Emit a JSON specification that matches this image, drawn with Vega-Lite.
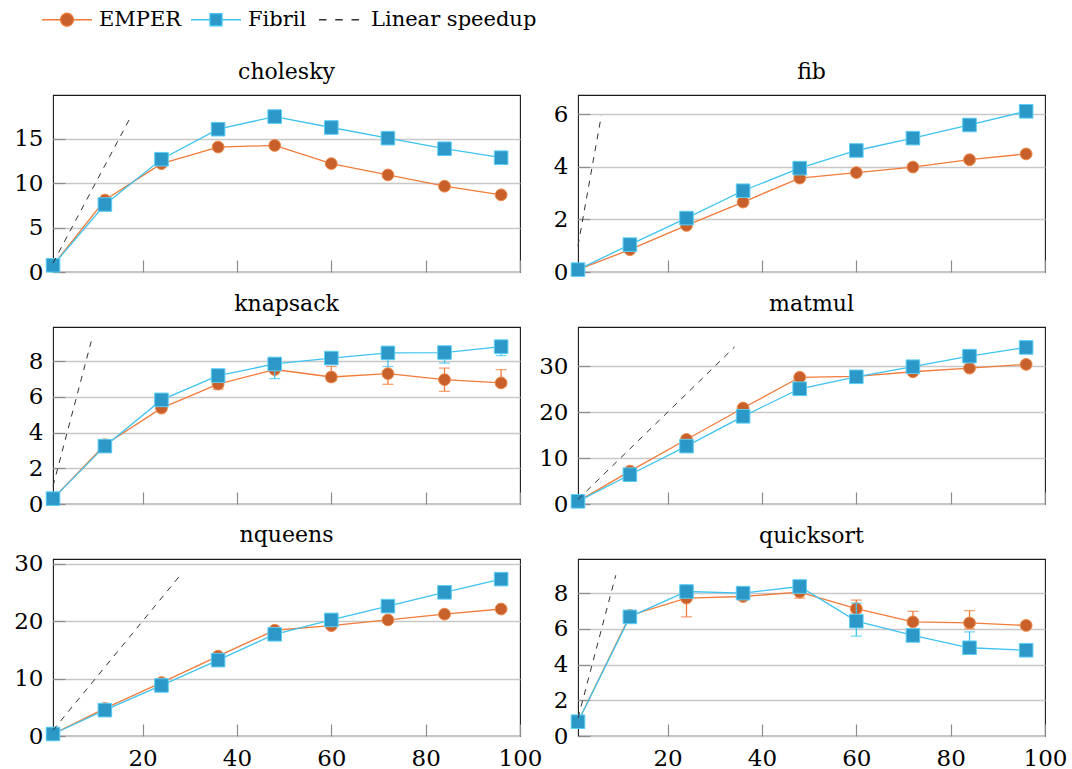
{
  "$schema": "https://vega.github.io/schema/vega-lite/v6.json",
  "padding": {"left": 7, "top": 6, "right": 4, "bottom": 4},
  "config": {
    "font": "DejaVu Serif",
    "view": {"stroke": "#1a1a1a", "strokeWidth": 1.1},
    "axis": {"domain": false, "labelFont": "DejaVu Serif", "labelFontSize": 23, "labelColor": "#000000", "tickColor": "#8c8c8c", "tickWidth": 1.2, "tickSize": -12, "labelPadding": 22, "gridColor": "#c8c8c8", "gridWidth": 1.3},
    "axisX": {"grid": false, "labelFlush": false, "labelOverlap": false, "labelPadding": 23},
    "axisY": {"grid": true, "minExtent": 45, "maxExtent": 45},
    "title": {"font": "DejaVu Serif", "fontSize": 22, "fontWeight": "normal", "color": "#000000", "offset": 11, "baseline": "alphabetic", "anchor": "middle"},
    "legend": {"orient": "none", "legendX": -12, "legendY": -89, "direction": "horizontal", "labelFont": "DejaVu Serif", "labelFontSize": 21, "labelColor": "#000000", "labelLimit": 400, "symbolSize": 625, "symbolStrokeWidth": 1.3, "labelOffset": 31, "columnPadding": 6, "padding": 0}
  },
  "datasets": {
    "pts": [
      {"bench": "cholesky", "series": "EMPER", "x": 1, "y": 0.75},
      {"bench": "cholesky", "series": "EMPER", "x": 12, "y": 8.1},
      {"bench": "cholesky", "series": "EMPER", "x": 24, "y": 12.2},
      {"bench": "cholesky", "series": "EMPER", "x": 36, "y": 14.07},
      {"bench": "cholesky", "series": "EMPER", "x": 48, "y": 14.25},
      {"bench": "cholesky", "series": "EMPER", "x": 60, "y": 12.2},
      {"bench": "cholesky", "series": "EMPER", "x": 72, "y": 10.93},
      {"bench": "cholesky", "series": "EMPER", "x": 84, "y": 9.66},
      {"bench": "cholesky", "series": "EMPER", "x": 96, "y": 8.69},
      {"bench": "cholesky", "series": "Fibril", "x": 1, "y": 0.75},
      {"bench": "cholesky", "series": "Fibril", "x": 12, "y": 7.6},
      {"bench": "cholesky", "series": "Fibril", "x": 24, "y": 12.7},
      {"bench": "cholesky", "series": "Fibril", "x": 36, "y": 16.08},
      {"bench": "cholesky", "series": "Fibril", "x": 48, "y": 17.5},
      {"bench": "cholesky", "series": "Fibril", "x": 60, "y": 16.27},
      {"bench": "cholesky", "series": "Fibril", "x": 72, "y": 15.07},
      {"bench": "cholesky", "series": "Fibril", "x": 84, "y": 13.88},
      {"bench": "cholesky", "series": "Fibril", "x": 96, "y": 12.87},
      {"bench": "fib", "series": "EMPER", "x": 1, "y": 0.09},
      {"bench": "fib", "series": "EMPER", "x": 12, "y": 0.85},
      {"bench": "fib", "series": "EMPER", "x": 24, "y": 1.77},
      {"bench": "fib", "series": "EMPER", "x": 36, "y": 2.66},
      {"bench": "fib", "series": "EMPER", "x": 48, "y": 3.57},
      {"bench": "fib", "series": "EMPER", "x": 60, "y": 3.78},
      {"bench": "fib", "series": "EMPER", "x": 72, "y": 3.99},
      {"bench": "fib", "series": "EMPER", "x": 84, "y": 4.27},
      {"bench": "fib", "series": "EMPER", "x": 96, "y": 4.49},
      {"bench": "fib", "series": "Fibril", "x": 1, "y": 0.09},
      {"bench": "fib", "series": "Fibril", "x": 12, "y": 1.04},
      {"bench": "fib", "series": "Fibril", "x": 24, "y": 2.05},
      {"bench": "fib", "series": "Fibril", "x": 36, "y": 3.09},
      {"bench": "fib", "series": "Fibril", "x": 48, "y": 3.95},
      {"bench": "fib", "series": "Fibril", "x": 60, "y": 4.62},
      {"bench": "fib", "series": "Fibril", "x": 72, "y": 5.09},
      {"bench": "fib", "series": "Fibril", "x": 84, "y": 5.59},
      {"bench": "fib", "series": "Fibril", "x": 96, "y": 6.11},
      {"bench": "knapsack", "series": "EMPER", "x": 1, "y": 0.3},
      {"bench": "knapsack", "series": "EMPER", "x": 12, "y": 3.32},
      {"bench": "knapsack", "series": "EMPER", "x": 24, "y": 5.37},
      {"bench": "knapsack", "series": "EMPER", "x": 36, "y": 6.71, "lo": 6.43, "hi": 6.9},
      {"bench": "knapsack", "series": "EMPER", "x": 48, "y": 7.53},
      {"bench": "knapsack", "series": "EMPER", "x": 60, "y": 7.11, "lo": 6.9, "hi": 7.7},
      {"bench": "knapsack", "series": "EMPER", "x": 72, "y": 7.3, "lo": 6.7, "hi": 7.45},
      {"bench": "knapsack", "series": "EMPER", "x": 84, "y": 6.96, "lo": 6.31, "hi": 7.61},
      {"bench": "knapsack", "series": "EMPER", "x": 96, "y": 6.78, "lo": 6.6, "hi": 7.52},
      {"bench": "knapsack", "series": "Fibril", "x": 1, "y": 0.3},
      {"bench": "knapsack", "series": "Fibril", "x": 12, "y": 3.24},
      {"bench": "knapsack", "series": "Fibril", "x": 24, "y": 5.83},
      {"bench": "knapsack", "series": "Fibril", "x": 36, "y": 7.19},
      {"bench": "knapsack", "series": "Fibril", "x": 48, "y": 7.84, "lo": 7.02, "hi": 8.0},
      {"bench": "knapsack", "series": "Fibril", "x": 60, "y": 8.17},
      {"bench": "knapsack", "series": "Fibril", "x": 72, "y": 8.46, "lo": 7.7, "hi": 8.6},
      {"bench": "knapsack", "series": "Fibril", "x": 84, "y": 8.48, "lo": 7.89, "hi": 8.6},
      {"bench": "knapsack", "series": "Fibril", "x": 96, "y": 8.81, "lo": 8.31, "hi": 8.9},
      {"bench": "matmul", "series": "EMPER", "x": 1, "y": 0.58},
      {"bench": "matmul", "series": "EMPER", "x": 12, "y": 7.17},
      {"bench": "matmul", "series": "EMPER", "x": 24, "y": 14.06},
      {"bench": "matmul", "series": "EMPER", "x": 36, "y": 20.9},
      {"bench": "matmul", "series": "EMPER", "x": 48, "y": 27.6},
      {"bench": "matmul", "series": "EMPER", "x": 60, "y": 27.8},
      {"bench": "matmul", "series": "EMPER", "x": 72, "y": 28.8},
      {"bench": "matmul", "series": "EMPER", "x": 84, "y": 29.6},
      {"bench": "matmul", "series": "EMPER", "x": 96, "y": 30.4},
      {"bench": "matmul", "series": "Fibril", "x": 1, "y": 0.58},
      {"bench": "matmul", "series": "Fibril", "x": 12, "y": 6.38},
      {"bench": "matmul", "series": "Fibril", "x": 24, "y": 12.6},
      {"bench": "matmul", "series": "Fibril", "x": 36, "y": 19.1},
      {"bench": "matmul", "series": "Fibril", "x": 48, "y": 25.1},
      {"bench": "matmul", "series": "Fibril", "x": 60, "y": 27.7},
      {"bench": "matmul", "series": "Fibril", "x": 72, "y": 29.9},
      {"bench": "matmul", "series": "Fibril", "x": 84, "y": 32.2},
      {"bench": "matmul", "series": "Fibril", "x": 96, "y": 34.1},
      {"bench": "nqueens", "series": "EMPER", "x": 1, "y": 0.35},
      {"bench": "nqueens", "series": "EMPER", "x": 12, "y": 4.8},
      {"bench": "nqueens", "series": "EMPER", "x": 24, "y": 9.3},
      {"bench": "nqueens", "series": "EMPER", "x": 36, "y": 13.9},
      {"bench": "nqueens", "series": "EMPER", "x": 48, "y": 18.4},
      {"bench": "nqueens", "series": "EMPER", "x": 60, "y": 19.2},
      {"bench": "nqueens", "series": "EMPER", "x": 72, "y": 20.2},
      {"bench": "nqueens", "series": "EMPER", "x": 84, "y": 21.2},
      {"bench": "nqueens", "series": "EMPER", "x": 96, "y": 22.1},
      {"bench": "nqueens", "series": "Fibril", "x": 1, "y": 0.35},
      {"bench": "nqueens", "series": "Fibril", "x": 12, "y": 4.5},
      {"bench": "nqueens", "series": "Fibril", "x": 24, "y": 8.8},
      {"bench": "nqueens", "series": "Fibril", "x": 36, "y": 13.2},
      {"bench": "nqueens", "series": "Fibril", "x": 48, "y": 17.7},
      {"bench": "nqueens", "series": "Fibril", "x": 60, "y": 20.2},
      {"bench": "nqueens", "series": "Fibril", "x": 72, "y": 22.6},
      {"bench": "nqueens", "series": "Fibril", "x": 84, "y": 25.0},
      {"bench": "nqueens", "series": "Fibril", "x": 96, "y": 27.3},
      {"bench": "quicksort", "series": "EMPER", "x": 1, "y": 0.8},
      {"bench": "quicksort", "series": "EMPER", "x": 12, "y": 6.75},
      {"bench": "quicksort", "series": "EMPER", "x": 24, "y": 7.72, "lo": 6.67, "hi": 7.9},
      {"bench": "quicksort", "series": "EMPER", "x": 36, "y": 7.81},
      {"bench": "quicksort", "series": "EMPER", "x": 48, "y": 8.06, "lo": 7.72, "hi": 8.2},
      {"bench": "quicksort", "series": "EMPER", "x": 60, "y": 7.13, "lo": 6.9, "hi": 7.61},
      {"bench": "quicksort", "series": "EMPER", "x": 72, "y": 6.39, "lo": 6.2, "hi": 6.98},
      {"bench": "quicksort", "series": "EMPER", "x": 84, "y": 6.33, "lo": 6.0, "hi": 7.02},
      {"bench": "quicksort", "series": "EMPER", "x": 96, "y": 6.19},
      {"bench": "quicksort", "series": "Fibril", "x": 1, "y": 0.8},
      {"bench": "quicksort", "series": "Fibril", "x": 12, "y": 6.67},
      {"bench": "quicksort", "series": "Fibril", "x": 24, "y": 8.09},
      {"bench": "quicksort", "series": "Fibril", "x": 36, "y": 8.0},
      {"bench": "quicksort", "series": "Fibril", "x": 48, "y": 8.37},
      {"bench": "quicksort", "series": "Fibril", "x": 60, "y": 6.43, "lo": 5.59, "hi": 7.44},
      {"bench": "quicksort", "series": "Fibril", "x": 72, "y": 5.63},
      {"bench": "quicksort", "series": "Fibril", "x": 84, "y": 4.94, "lo": 4.8, "hi": 5.83},
      {"bench": "quicksort", "series": "Fibril", "x": 96, "y": 4.8}
    ],
    "lin": [
      {"bench": "cholesky", "x": 1, "y": 1},
      {"bench": "cholesky", "x": 17.5, "y": 17.5},
      {"bench": "fib", "x": 1, "y": 1},
      {"bench": "fib", "x": 5.95, "y": 5.95},
      {"bench": "knapsack", "x": 1, "y": 1},
      {"bench": "knapsack", "x": 9.1, "y": 9.1},
      {"bench": "matmul", "x": 1, "y": 1},
      {"bench": "matmul", "x": 34.2, "y": 34.2},
      {"bench": "nqueens", "x": 1, "y": 1},
      {"bench": "nqueens", "x": 28, "y": 28},
      {"bench": "quicksort", "x": 1, "y": 1},
      {"bench": "quicksort", "x": 9, "y": 9}
    ]
  },
  "columns": 2,
  "spacing": {"row": 55, "column": 58},
  "bounds": "flush",
  "resolve": {"scale": {"x": "independent", "y": "independent"}},
  "concat": [
    {
      "title": "cholesky",
      "width": 467, "height": 177,
      "encoding": {
        "x": {"field": "x", "type": "quantitative", "scale": {"domain": [1, 100], "nice": false, "zero": false}, "axis": {"title": null, "values": [20, 40, 60, 80, 100], "labels": false}},
        "y": {"field": "y", "type": "quantitative", "scale": {"domain": [0, 19.93], "nice": false, "zero": false}, "axis": {"title": null, "values": [0, 5, 10, 15]}}
      },
      "layer": [
        {"data": {"name": "pts"}, "transform": [{"filter": "datum.bench === 'cholesky' && datum.series === 'EMPER'"}], "mark": {"type": "line", "color": "#f27b3a", "strokeWidth": 1.3}, "encoding": {}},
        {"data": {"name": "pts"}, "transform": [{"filter": "datum.bench === 'cholesky' && datum.series === 'EMPER'"}], "mark": {"type": "point", "shape": "circle", "filled": true, "fill": "#c8602c", "stroke": "#f08a4b", "strokeWidth": 1, "size": 140, "opacity": 1}},
        {"data": {"name": "pts"}, "transform": [{"filter": "datum.bench === 'cholesky' && datum.series === 'Fibril'"}], "mark": {"type": "line", "color": "#3ec3f0", "strokeWidth": 1.3}, "encoding": {}},
        {"data": {"name": "pts"}, "transform": [{"filter": "datum.bench === 'cholesky' && datum.series === 'Fibril'"}], "mark": {"type": "point", "shape": "square", "filled": true, "fill": "#2b98c8", "stroke": "#5ccdf5", "strokeWidth": 1, "size": 185, "opacity": 1}},
        {"data": {"name": "lin"}, "transform": [{"filter": "datum.bench === 'cholesky'"}], "mark": {"type": "line", "color": "#333333", "strokeWidth": 1, "strokeDash": [6, 6]}, "encoding": {}},
        {"data": {"name": "pts"}, "transform": [{"filter": "false"}], "mark": {"type": "point", "filled": true, "opacity": 1},
          "encoding": {
            "shape": {"field": "series", "type": "nominal", "scale": {"domain": ["EMPER", "Fibril", "Linear speedup"], "range": ["M-1,0H0.48M1.52,0H3M1.52,0A0.52,0.52,0,1,1,0.48,0A0.52,0.52,0,1,1,1.52,0Z", "M-1,0H0.52M1.48,0H3M0.52,-0.48H1.48V0.48H0.52Z", "M-0.6,0H0M0.7,0H1.3M2,0H2.6"]}, "legend": {"title": null}},
            "fill": {"field": "series", "type": "nominal", "scale": {"domain": ["EMPER", "Fibril", "Linear speedup"], "range": ["#c8602c", "#2b98c8", "transparent"]}, "legend": {"title": null}},
            "stroke": {"field": "series", "type": "nominal", "scale": {"domain": ["EMPER", "Fibril", "Linear speedup"], "range": ["#f27b3a", "#3ec3f0", "#333333"]}, "legend": {"title": null}}
          }
        }
      ]
    },
    {
      "title": "fib",
      "width": 467, "height": 177,
      "encoding": {
        "x": {"field": "x", "type": "quantitative", "scale": {"domain": [1, 100], "nice": false, "zero": false}, "axis": {"title": null, "values": [20, 40, 60, 80, 100], "labels": false}},
        "y": {"field": "y", "type": "quantitative", "scale": {"domain": [0, 6.73], "nice": false, "zero": false}, "axis": {"title": null, "values": [0, 2, 4, 6]}}
      },
      "layer": [
        {"data": {"name": "pts"}, "transform": [{"filter": "datum.bench === 'fib' && datum.series === 'EMPER'"}], "mark": {"type": "line", "color": "#f27b3a", "strokeWidth": 1.3}, "encoding": {}},
        {"data": {"name": "pts"}, "transform": [{"filter": "datum.bench === 'fib' && datum.series === 'EMPER'"}], "mark": {"type": "point", "shape": "circle", "filled": true, "fill": "#c8602c", "stroke": "#f08a4b", "strokeWidth": 1, "size": 140, "opacity": 1}},
        {"data": {"name": "pts"}, "transform": [{"filter": "datum.bench === 'fib' && datum.series === 'Fibril'"}], "mark": {"type": "line", "color": "#3ec3f0", "strokeWidth": 1.3}, "encoding": {}},
        {"data": {"name": "pts"}, "transform": [{"filter": "datum.bench === 'fib' && datum.series === 'Fibril'"}], "mark": {"type": "point", "shape": "square", "filled": true, "fill": "#2b98c8", "stroke": "#5ccdf5", "strokeWidth": 1, "size": 185, "opacity": 1}},
        {"data": {"name": "lin"}, "transform": [{"filter": "datum.bench === 'fib'"}], "mark": {"type": "line", "color": "#333333", "strokeWidth": 1, "strokeDash": [6, 6]}, "encoding": {}}
      ]
    },
    {
      "title": "knapsack",
      "width": 467, "height": 177,
      "encoding": {
        "x": {"field": "x", "type": "quantitative", "scale": {"domain": [1, 100], "nice": false, "zero": false}, "axis": {"title": null, "values": [20, 40, 60, 80, 100], "labels": false}},
        "y": {"field": "y", "type": "quantitative", "scale": {"domain": [0, 9.91], "nice": false, "zero": false}, "axis": {"title": null, "values": [0, 2, 4, 6, 8]}}
      },
      "layer": [
        {"data": {"name": "pts"}, "transform": [{"filter": "datum.bench === 'knapsack' && datum.series === 'EMPER' && isValid(datum.lo)"}], "mark": {"type": "errorbar", "ticks": {"size": 11}, "color": "#f27b3a", "thickness": 1.3},
          "encoding": {"y": {"field": "lo", "type": "quantitative", "scale": {"domain": [0, 9.91], "nice": false, "zero": false}, "axis": {"title": null, "values": [0, 2, 4, 6, 8]}}, "y2": {"field": "hi"}}},
        {"data": {"name": "pts"}, "transform": [{"filter": "datum.bench === 'knapsack' && datum.series === 'EMPER'"}], "mark": {"type": "line", "color": "#f27b3a", "strokeWidth": 1.3}, "encoding": {}},
        {"data": {"name": "pts"}, "transform": [{"filter": "datum.bench === 'knapsack' && datum.series === 'EMPER'"}], "mark": {"type": "point", "shape": "circle", "filled": true, "fill": "#c8602c", "stroke": "#f08a4b", "strokeWidth": 1, "size": 140, "opacity": 1}},
        {"data": {"name": "pts"}, "transform": [{"filter": "datum.bench === 'knapsack' && datum.series === 'Fibril' && isValid(datum.lo)"}], "mark": {"type": "errorbar", "ticks": {"size": 11}, "color": "#3ec3f0", "thickness": 1.3},
          "encoding": {"y": {"field": "lo", "type": "quantitative", "scale": {"domain": [0, 9.91], "nice": false, "zero": false}, "axis": {"title": null, "values": [0, 2, 4, 6, 8]}}, "y2": {"field": "hi"}}},
        {"data": {"name": "pts"}, "transform": [{"filter": "datum.bench === 'knapsack' && datum.series === 'Fibril'"}], "mark": {"type": "line", "color": "#3ec3f0", "strokeWidth": 1.3}, "encoding": {}},
        {"data": {"name": "pts"}, "transform": [{"filter": "datum.bench === 'knapsack' && datum.series === 'Fibril'"}], "mark": {"type": "point", "shape": "square", "filled": true, "fill": "#2b98c8", "stroke": "#5ccdf5", "strokeWidth": 1, "size": 185, "opacity": 1}},
        {"data": {"name": "lin"}, "transform": [{"filter": "datum.bench === 'knapsack'"}], "mark": {"type": "line", "color": "#333333", "strokeWidth": 1, "strokeDash": [6, 6]}, "encoding": {}}
      ]
    },
    {
      "title": "matmul",
      "width": 467, "height": 177,
      "encoding": {
        "x": {"field": "x", "type": "quantitative", "scale": {"domain": [1, 100], "nice": false, "zero": false}, "axis": {"title": null, "values": [20, 40, 60, 80, 100], "labels": false}},
        "y": {"field": "y", "type": "quantitative", "scale": {"domain": [0, 38.55], "nice": false, "zero": false}, "axis": {"title": null, "values": [0, 10, 20, 30]}}
      },
      "layer": [
        {"data": {"name": "pts"}, "transform": [{"filter": "datum.bench === 'matmul' && datum.series === 'EMPER'"}], "mark": {"type": "line", "color": "#f27b3a", "strokeWidth": 1.3}, "encoding": {}},
        {"data": {"name": "pts"}, "transform": [{"filter": "datum.bench === 'matmul' && datum.series === 'EMPER'"}], "mark": {"type": "point", "shape": "circle", "filled": true, "fill": "#c8602c", "stroke": "#f08a4b", "strokeWidth": 1, "size": 140, "opacity": 1}},
        {"data": {"name": "pts"}, "transform": [{"filter": "datum.bench === 'matmul' && datum.series === 'Fibril'"}], "mark": {"type": "line", "color": "#3ec3f0", "strokeWidth": 1.3}, "encoding": {}},
        {"data": {"name": "pts"}, "transform": [{"filter": "datum.bench === 'matmul' && datum.series === 'Fibril'"}], "mark": {"type": "point", "shape": "square", "filled": true, "fill": "#2b98c8", "stroke": "#5ccdf5", "strokeWidth": 1, "size": 185, "opacity": 1}},
        {"data": {"name": "lin"}, "transform": [{"filter": "datum.bench === 'matmul'"}], "mark": {"type": "line", "color": "#333333", "strokeWidth": 1, "strokeDash": [6, 6]}, "encoding": {}}
      ]
    },
    {
      "title": {"text": "nqueens", "offset": 6},
      "width": 467, "height": 177,
      "encoding": {
        "x": {"field": "x", "type": "quantitative", "scale": {"domain": [1, 100], "nice": false, "zero": false}, "axis": {"title": null, "values": [20, 40, 60, 80, 100]}},
        "y": {"field": "y", "type": "quantitative", "scale": {"domain": [0, 30.8], "nice": false, "zero": false}, "axis": {"title": null, "values": [0, 10, 20, 30]}}
      },
      "layer": [
        {"data": {"name": "pts"}, "transform": [{"filter": "datum.bench === 'nqueens' && datum.series === 'EMPER'"}], "mark": {"type": "line", "color": "#f27b3a", "strokeWidth": 1.3}, "encoding": {}},
        {"data": {"name": "pts"}, "transform": [{"filter": "datum.bench === 'nqueens' && datum.series === 'EMPER'"}], "mark": {"type": "point", "shape": "circle", "filled": true, "fill": "#c8602c", "stroke": "#f08a4b", "strokeWidth": 1, "size": 140, "opacity": 1}},
        {"data": {"name": "pts"}, "transform": [{"filter": "datum.bench === 'nqueens' && datum.series === 'Fibril'"}], "mark": {"type": "line", "color": "#3ec3f0", "strokeWidth": 1.3}, "encoding": {}},
        {"data": {"name": "pts"}, "transform": [{"filter": "datum.bench === 'nqueens' && datum.series === 'Fibril'"}], "mark": {"type": "point", "shape": "square", "filled": true, "fill": "#2b98c8", "stroke": "#5ccdf5", "strokeWidth": 1, "size": 185, "opacity": 1}},
        {"data": {"name": "lin"}, "transform": [{"filter": "datum.bench === 'nqueens'"}], "mark": {"type": "line", "color": "#333333", "strokeWidth": 1, "strokeDash": [6, 6]}, "encoding": {}}
      ]
    },
    {
      "title": "quicksort",
      "width": 467, "height": 177,
      "encoding": {
        "x": {"field": "x", "type": "quantitative", "scale": {"domain": [1, 100], "nice": false, "zero": false}, "axis": {"title": null, "values": [20, 40, 60, 80, 100]}},
        "y": {"field": "y", "type": "quantitative", "scale": {"domain": [0, 9.91], "nice": false, "zero": false}, "axis": {"title": null, "values": [0, 2, 4, 6, 8]}}
      },
      "layer": [
        {"data": {"name": "pts"}, "transform": [{"filter": "datum.bench === 'quicksort' && datum.series === 'EMPER' && isValid(datum.lo)"}], "mark": {"type": "errorbar", "ticks": {"size": 11}, "color": "#f27b3a", "thickness": 1.3},
          "encoding": {"y": {"field": "lo", "type": "quantitative", "scale": {"domain": [0, 9.91], "nice": false, "zero": false}, "axis": {"title": null, "values": [0, 2, 4, 6, 8]}}, "y2": {"field": "hi"}}},
        {"data": {"name": "pts"}, "transform": [{"filter": "datum.bench === 'quicksort' && datum.series === 'EMPER'"}], "mark": {"type": "line", "color": "#f27b3a", "strokeWidth": 1.3}, "encoding": {}},
        {"data": {"name": "pts"}, "transform": [{"filter": "datum.bench === 'quicksort' && datum.series === 'EMPER'"}], "mark": {"type": "point", "shape": "circle", "filled": true, "fill": "#c8602c", "stroke": "#f08a4b", "strokeWidth": 1, "size": 140, "opacity": 1}},
        {"data": {"name": "pts"}, "transform": [{"filter": "datum.bench === 'quicksort' && datum.series === 'Fibril' && isValid(datum.lo)"}], "mark": {"type": "errorbar", "ticks": {"size": 11}, "color": "#3ec3f0", "thickness": 1.3},
          "encoding": {"y": {"field": "lo", "type": "quantitative", "scale": {"domain": [0, 9.91], "nice": false, "zero": false}, "axis": {"title": null, "values": [0, 2, 4, 6, 8]}}, "y2": {"field": "hi"}}},
        {"data": {"name": "pts"}, "transform": [{"filter": "datum.bench === 'quicksort' && datum.series === 'Fibril'"}], "mark": {"type": "line", "color": "#3ec3f0", "strokeWidth": 1.3}, "encoding": {}},
        {"data": {"name": "pts"}, "transform": [{"filter": "datum.bench === 'quicksort' && datum.series === 'Fibril'"}], "mark": {"type": "point", "shape": "square", "filled": true, "fill": "#2b98c8", "stroke": "#5ccdf5", "strokeWidth": 1, "size": 185, "opacity": 1}},
        {"data": {"name": "lin"}, "transform": [{"filter": "datum.bench === 'quicksort'"}], "mark": {"type": "line", "color": "#333333", "strokeWidth": 1, "strokeDash": [6, 6]}, "encoding": {}}
      ]
    }
  ]
}
